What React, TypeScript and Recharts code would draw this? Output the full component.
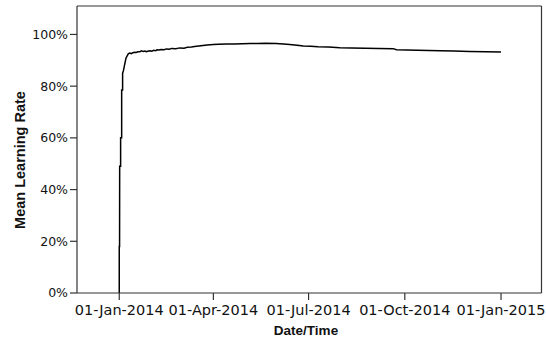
import React from 'react';
import { LineChart, Line, XAxis, YAxis, ReferenceLine } from 'recharts';

const DAY = 86400000;
const START = Date.UTC(2014, 0, 1);

// days since 01-Jan-2014
const dayOffsets = [
  0, 0, 0.3, 0.4, 1.3, 1.3, 2.3, 2.3, 3.2, 3.2, 4, 5, 6.4, 8.6, 10, 11.5, 13, 14.5, 16, 18, 19.8, 21,
  23, 24.5, 26, 28, 29.4, 31, 33, 35, 36, 38, 40, 43, 45, 48, 50, 54, 58, 62, 65, 69, 72, 78, 84,
  90, 95, 102, 110, 118, 125, 132, 140, 150, 157, 163, 170, 176, 183, 190, 200, 211, 222, 235, 248,
  262, 265, 275, 285, 296, 307, 320, 335, 350, 365,
];
const learningRates = [
  0, 0.18, 0.18, 0.49, 0.49, 0.6, 0.6, 0.785, 0.785, 0.85, 0.86, 0.88, 0.908, 0.925, 0.928, 0.926, 0.929, 0.931, 0.93,
  0.933, 0.933, 0.937, 0.934, 0.936, 0.933, 0.936, 0.937, 0.935, 0.939, 0.937, 0.941, 0.94, 0.942, 0.941, 0.944,
  0.943, 0.946, 0.945, 0.948, 0.947, 0.95, 0.951, 0.953, 0.956, 0.959, 0.961, 0.962, 0.963, 0.963, 0.964, 0.965,
  0.965, 0.966, 0.965, 0.963, 0.961, 0.958, 0.955, 0.954, 0.952, 0.951, 0.949, 0.948, 0.947, 0.946, 0.945, 0.941,
  0.94, 0.939, 0.938, 0.937, 0.936, 0.934, 0.933, 0.932,
];

const tickDates = ['2014-01-01', '2014-04-01', '2014-07-01', '2014-10-01', '2015-01-01'];
const yTicks = [0, 0.2, 0.4, 0.6, 0.8, 1.0];
const MONTHS = ['Jan', 'Feb', 'Mar', 'Apr', 'May', 'Jun', 'Jul', 'Aug', 'Sep', 'Oct', 'Nov', 'Dec'];

const data = dayOffsets.map((d, i) => ({ t: START + d * DAY, rate: learningRates[i] }));
const xTicks = tickDates.map((s) => Date.parse(s + 'T00:00:00Z'));
const X_MIN = START - 40.4 * DAY;
const X_MAX = START + 403.7 * DAY;
const Y_MAX = 1.11;

const fmtDate = (v: number) => {
  const d = new Date(v);
  const dd = String(d.getUTCDate()).padStart(2, '0');
  return `${dd}-${MONTHS[d.getUTCMonth()]}-${d.getUTCFullYear()}`;
};

const AXIS = '#333';
const TICK_FONT = { fill: '#111', fontSize: 14.5, fontFamily: 'DejaVu Sans' };

export default function App() {
  return (
    <div style={{ position: 'absolute', left: 0, top: 0 }}>
      <LineChart width={546} height={341} data={data} margin={{ top: 6, right: 4.5, left: 0, bottom: 0 }}>
        <XAxis
          dataKey="t"
          type="number"
          domain={[X_MIN, X_MAX]}
          allowDataOverflow
          ticks={xTicks}
          interval={0}
          tickFormatter={fmtDate}
          height={48}
          tickSize={7}
          tickMargin={5}
          stroke={AXIS}
          strokeWidth={1.2}
          tick={TICK_FONT}
          label={() => (
            <text x={306} y={335} textAnchor="middle" fontFamily="Liberation Sans" fontWeight="bold" fontSize={13.5} fill="#111">
              Date/Time
            </text>
          )}
        />
        <YAxis
          type="number"
          domain={[0, Y_MAX]}
          allowDataOverflow
          ticks={yTicks}
          interval={0}
          tickFormatter={(v: number) => `${Math.round(v * 100)}%`}
          width={77}
          tickSize={7}
          tickMargin={2}
          stroke={AXIS}
          strokeWidth={1.2}
          tick={{ ...TICK_FONT, fontSize: 12.5 }}
          label={() => (
            <text
              x={25}
              y={160}
              transform="rotate(-90, 25, 160)"
              textAnchor="middle"
              fontFamily="Liberation Sans"
              fontWeight="bold"
              fontSize={14.5}
              fill="#111"
            >
              Mean Learning Rate
            </text>
          )}
        />
        <ReferenceLine y={Y_MAX} stroke={AXIS} strokeWidth={1.2} ifOverflow="visible" />
        <ReferenceLine x={X_MAX} stroke={AXIS} strokeWidth={1.2} ifOverflow="visible" />
        <Line
          type="linear"
          dataKey="rate"
          stroke="#000"
          strokeWidth={1.5}
          dot={false}
          isAnimationActive={false}
        />
      </LineChart>
    </div>
  );
}
